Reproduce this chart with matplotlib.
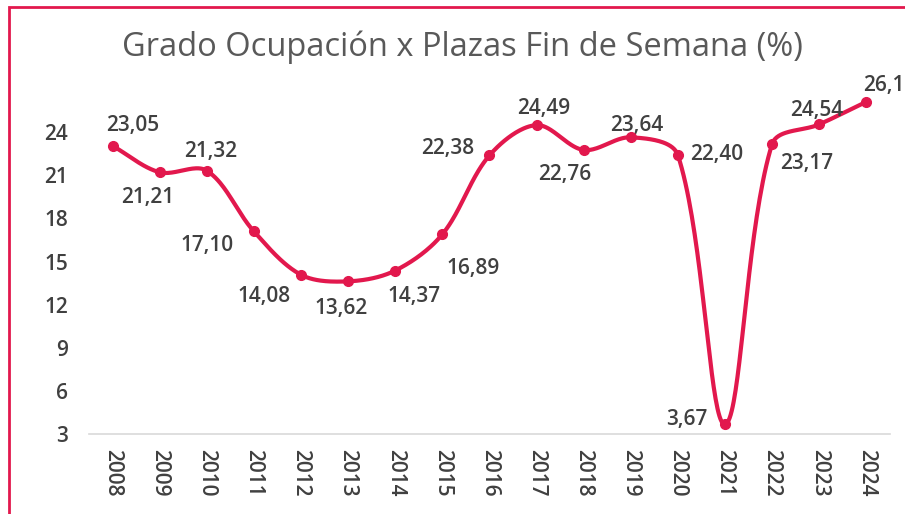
import numpy as np
import matplotlib

matplotlib.use("Agg")
import matplotlib.pyplot as plt
from matplotlib.patches import Rectangle

years = ["2008", "2009", "2010", "2011", "2012", "2013", "2014", "2015", "2016",
         "2017", "2018", "2019", "2020", "2021", "2022", "2023", "2024"]
values = [23.05, 21.21, 21.32, 17.10, 14.08, 13.62, 14.37, 16.89, 22.38,
          24.49, 22.76, 23.64, 22.40, 3.67, 23.17, 24.54, 26.11]
y_ticks = [3, 6, 9, 12, 15, 18, 21, 24]

# label centre offsets in pixels relative to each point
label_offsets = [(20, 22), (-12, -24), (4, 21), (-47, -13), (-37, -20), (-7, -26),
                 (19, -24), (31, -33), (-42, 8), (7, 18), (-19, -23), (6, 13),
                 (39, 2), (-38, 6), (35, -18), (-3, 15), (23, 18)]

color = "#E2184D"
text_color = "#404040"
plt.rcParams["font.family"] = ["Open Sans", "DejaVu Sans"]

fig = plt.figure(figsize=(9.05, 5.14), dpi=100)
ax = fig.add_axes([0.0983, 0.1556, 0.885, 0.6712])
ax.set_xlim(-0.5, len(years) - 0.5)
ax.set_ylim(3, 27)


def smooth(x, y, n=40):
    # bezier smoothing with arms scaled by segment length (Excel-like, no big overshoot)
    pts = ax.transData.transform(np.column_stack([x, y]))
    out = []
    t = np.linspace(0, 1, n)[:, None]
    m = len(pts)
    tang = []
    for i in range(m):
        a = pts[max(i - 1, 0)]
        b = pts[min(i + 1, m - 1)]
        tang.append((b - a) / 6 * (2 if i in (0, m - 1) else 1))
    for i in range(m - 1):
        p0, p3 = pts[i], pts[i + 1]
        d = np.linalg.norm(p3 - p0)
        dp = np.linalg.norm(p0 - pts[i - 1]) if i > 0 else d
        dn = np.linalg.norm(pts[i + 2] - p3) if i + 2 < m else d
        c1 = p0 + tang[i] * (2 * d / (dp + d))
        c2 = p3 - tang[i + 1] * (2 * d / (d + dn))
        out.append((1 - t) ** 3 * p0 + 3 * (1 - t) ** 2 * t * c1
                   + 3 * (1 - t) * t ** 2 * c2 + t ** 3 * p3)
    out = np.vstack(out)
    return ax.transData.inverted().transform(out)


xi = np.arange(len(years))
curve = smooth(xi, values)
ax.plot(curve[:, 0], curve[:, 1], color=color, lw=3, solid_capstyle="round", zorder=3)
ax.plot(xi, values, "o", color=color, ms=7, zorder=4)

for i, v in enumerate(values):
    dx, dy = label_offsets[i]
    # baseline sits ~7px below the digit centre
    ax.annotate(f"{v:.2f}".replace(".", ","), (i, v), xytext=(dx, dy - 7),
                textcoords="offset pixels", ha="center", va="baseline",
                fontsize=15, fontweight="semibold", color=text_color,
                annotation_clip=False)

ax.set_xticks(xi)
ax.set_xticklabels(years, rotation=-90, fontsize=15, fontweight="semibold", color=text_color)
ax.set_yticks(y_ticks)
ax.set_yticklabels([str(t) for t in y_ticks], fontsize=15, fontweight="semibold", color=text_color)
ax.tick_params(axis="both", length=0)
ax.tick_params(axis="y", pad=15)
ax.tick_params(axis="x", pad=11)
for s in ["top", "right", "left"]:
    ax.spines[s].set_visible(False)
ax.spines["bottom"].set_color("#D9D9D9")
ax.spines["bottom"].set_linewidth(1.2)

fig.text(0.511, 0.908, "Grado Ocupación x Plazas Fin de Semana (%)", ha="center", va="center",
         fontsize=23.5, color="#595959")

# chart frame (cropped at right and bottom)
fig.patches.append(Rectangle((9, -10), 1000, 514 - 7 + 10, transform=None,
                             fill=False, edgecolor=color, lw=2))

fig.savefig("out.png", dpi=100, facecolor="white")
